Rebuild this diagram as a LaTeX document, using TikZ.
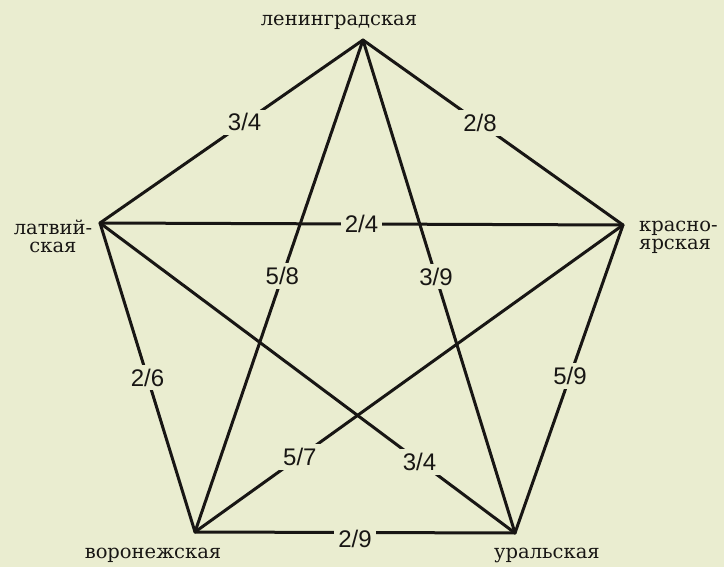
\documentclass[tikz,border=0pt]{standalone}
\usepackage{fontspec}
\setmainfont{DejaVu Serif}
\newfontfamily\lblfont{Liberation Sans}
\definecolor{paper}{RGB}{234,237,208}
\definecolor{ink}{RGB}{24,22,20}
\usetikzlibrary{positioning}

\begin{document}
\begin{tikzpicture}[
    x=1pt, y=-1pt,
    city/.style={font=\fontsize{19.5}{18}\selectfont, text=ink, inner sep=0pt},
    edge/.style={draw=ink, line width=3pt, line cap=round},
    frac/.style={font=\lblfont\fontsize{24}{24}\selectfont, text=ink, fill=paper, inner sep=4pt}
]
    \fill[paper] (0,0) rectangle (724,567);
    \useasboundingbox (0,0) rectangle (724,567);

    % vertices of the pentagon
    \coordinate (len) at (363,40);
    \coordinate (lat) at (100,223);
    \coordinate (kra) at (623,225);
    \coordinate (vor) at (195,532);
    \coordinate (ura) at (515,533);

    % names
    \node[city] (lenname) at (339,22) {ленинградская};
    \node[city, align=center] (latname) at (53,236) {латвий-\\ская};
    \node[city, align=left, anchor=west] (kraname) at (639,237) {красно-\\ярская};
    \node[city] (vorname) at (153,555) {воронежская};
    \node[city] (uraname) at (547,555) {уральская};

    % outer edges
    \draw[edge] (len) -- node[frac, pos=0.45] (lenlat) {3/4} (lat);
    \draw[edge] (len) -- node[frac, pos=0.45] (lenkra) {2/8} (kra);
    \draw[edge] (lat) -- node[frac, pos=0.5] (latvor) {2/6} (vor);
    \draw[edge] (kra) -- node[frac, pos=0.49] (kraura) {5/9} (ura);
    \draw[edge] (vor) -- node[frac, pos=0.5, yshift=-6pt] (vorura) {2/9} (ura);

    % diagonals
    \draw[edge] (lat) -- node[frac, pos=0.5] (latkra) {2/4} (kra);
    \draw[edge] (len) -- node[frac, pos=0.48] (lenvor) {5/8} (vor);
    \draw[edge] (len) -- node[frac, pos=0.48] (lenura) {3/9} (ura);
    \draw[edge] (kra) -- node[frac, pos=0.755] (kravor) {5/7} (vor);
    \draw[edge] (lat) -- node[frac, pos=0.77] (latura) {3/4} (ura);
\end{tikzpicture}
\end{document}
